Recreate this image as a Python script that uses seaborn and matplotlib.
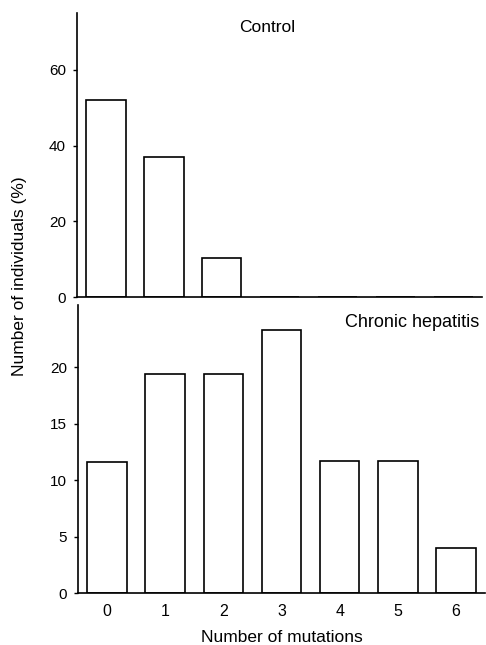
import matplotlib
matplotlib.use("Agg")
import matplotlib.pyplot as plt
import seaborn as sns
import pandas as pd

mutations = [0, 1, 2, 3, 4, 5, 6]
control_pct = [52.0, 37.0, 10.4, 0, 0, 0, 0]
hepatitis_pct = [11.6, 19.4, 19.4, 23.3, 11.7, 11.7, 4.0]
top_ticks = [0, 20, 40, 60]
bottom_ticks = [0, 5, 10, 15, 20]

sns.set_theme(style="ticks")
plt.rcParams['font.family'] = ['Liberation Sans', 'DejaVu Sans']
plt.rcParams['text.color'] = 'black'
plt.rcParams['axes.labelcolor'] = 'black'

fig = plt.figure(figsize=(4.86, 6.45), dpi=100)
ax1 = fig.add_axes([0.1584, 0.5395, 0.834, 0.4403])
ax2 = fig.add_axes([0.1605, 0.0806, 0.8375, 0.4464])

df1 = pd.DataFrame({"m": mutations, "v": control_pct})
df2 = pd.DataFrame({"m": mutations, "v": hepatitis_pct})

for ax, df in ((ax1, df1), (ax2, df2)):
    sns.barplot(data=df, x="m", y="v", color="white", edgecolor="black",
                linewidth=1.2, width=0.68, saturation=1, ax=ax)
    ax.set_xlim(-0.5, 6.5)
    ax.set_xlabel("")
    ax.set_ylabel("")
    for s in ("top", "right"):
        ax.spines[s].set_visible(False)
    for s in ("left", "bottom"):
        ax.spines[s].set_linewidth(1.2)
        ax.spines[s].set_color("black")
    ax.tick_params(axis="y", length=3, width=1, pad=5, labelsize=11, colors="black")
    ax.tick_params(axis="x", length=0, pad=8, labelsize=11.5, colors="black")
    ax.set_facecolor("white")

ax1.set_ylim(0, 75)
ax1.set_yticks(top_ticks)
ax1.set_xticks([])
ax1.text(0.47, 0.95, "Control", transform=ax1.transAxes, ha="center", va="center", fontsize=12.5)

ax2.set_ylim(0, 25.5)
ax2.set_yticks(bottom_ticks)
ax2.text(0.985, 0.94, "Chronic hepatitis", transform=ax2.transAxes, ha="right", va="center", fontsize=13)
ax2.set_xlabel("Number of mutations", fontsize=12.5, labelpad=8)

fig.text(0.041, 0.572, "Number of individuals (%)", rotation=90, ha="center", va="center", fontsize=12.5)

fig.savefig("out.png", dpi=100, facecolor="white")
